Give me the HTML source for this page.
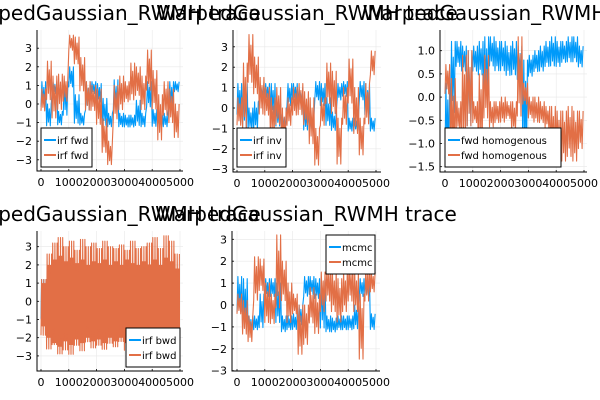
<!DOCTYPE html>
<html><head><meta charset="utf-8">
<style>
body{margin:0;background:#fff;}
svg{display:block;font-family:"DejaVu Sans","Liberation Sans",sans-serif;}
</style></head>
<body>
<svg id="chart" width="600" height="400" viewBox="0 0 600 400" xmlns="http://www.w3.org/2000/svg"></svg>
<script>
// bins of 200 iterations (25 bins over 0..5000), min/max envelope per bin
const xTicks = [0,1000,2000,3000,4000,5000];
const xTickLabels = ["0","1000","2000","3000","4000","5000"];
const yTicksA = [-3,-2,-1,0,1,2,3];
const yTickLabelsA = ["−3","−2","−1","0","1","2","3"];
const yTicksC = [-1.5,-1.0,-0.5,0.0,0.5,1.0];
const yTickLabelsC = ["−1.5","−1.0","−0.5","0.0","0.5","1.0"];

const p1BlueLo = [-0.3,-1.3,0.5,-1.2,-0.8,0.8,-1.2,-1.2,-0.5,0.5,0,-1.3,-1.3,-0.5,-1.3,-1.3,-1.3,-1.3,-1.3,-0.3,-1.3,-1.3,-1.3,-0.3,0.6];
const p1BlueHi = [1.2,0,1.2,-0.4,1.2,2.0,0.5,-0.5,1.2,1.2,1.1,0.3,-0.5,1.3,-0.5,-0.6,-0.6,0.2,-0.5,1.2,-0.3,-0.6,-0.5,1.2,1.2];
const p1OrangeLo = [-0.5,0,-1,-0.5,0,2.8,2,0.5,-0.5,-0.5,-1.3,-2.8,-3.4,-1,-0.5,0,0,0.3,-0.5,0.5,-0.5,-2.2,-0.8,-1.2,-2];
const p1OrangeHi = [0.8,2.3,1.5,1.6,1.5,3.7,3.6,2.5,1.2,1,0.8,-0.8,-2,1,1.5,1.2,2.2,2,1.5,2.9,1.8,0.5,1.2,0.8,0];

const p2BlueLo = [-0.5,-1.2,-1.2,-1.2,0.3,0.3,-0.5,-1,-1.2,0,0.3,0,-1.2,-1.2,0.3,0,-1,-1.2,0.3,0.5,-1.2,-1.2,0.3,-0.5,-1.2];
const p2BlueHi = [1.2,1.2,0,0.3,1.2,1.2,1.2,0.2,-0.3,1.2,1.2,1,0,-0.4,1.3,1.2,0.5,-0.2,1.2,1.3,-0.5,-0.5,1.3,1.2,-0.5];
const p2OrangeLo = [-1,-1.3,1,0.5,-0.5,-0.5,-1.5,-1,-2.2,-1,-0.5,-0.5,-1,-2,-3,-1,0,-0.5,-3,-1,0,-1.5,-2.5,-1,1.5];
const p2OrangeHi = [0.5,2.2,3.6,2.5,1.5,1,0.5,1,0,0.5,1,1.2,0.8,0.5,-1,0.5,2.2,1.8,-0.5,1,2.4,1,-0.5,1.2,2.8];

const p3BlueLo = [-1.5,-0.5,0.6,0.5,-0.8,0.5,0.4,0,0.6,0.5,0.5,0.4,0.4,0.3,-1.5,0.4,0.5,0.5,0.6,0.6,0.6,0.7,0.7,0.7,0.6];
const p3BlueHi = [0.3,1.2,1.2,1.1,1.0,1.1,1.2,1.3,1.3,1.2,1.2,1.1,1.2,1.1,0.8,0.9,1.0,1.1,1.2,1.3,1.2,1.2,1.3,1.3,1.1];
const p3OrangeLo = [0,-1.5,-0.8,-1.2,-0.8,-0.6,-1.2,-0.6,-0.7,-0.6,-0.6,-0.5,-0.8,-0.6,-0.2,-0.5,-0.6,-0.6,-0.7,-1.3,-1.3,-1.5,-1.4,-1.5,-1.2];
const p3OrangeHi = [0.7,0.4,-0.1,0.9,1.0,-0.1,0.5,0.9,-0.1,-0.1,0,-0.1,-0.1,1.3,0.3,0,0,-0.1,-0.2,-0.2,-0.3,-0.3,-0.2,-0.3,-0.3];

const p4BlueLo = [-1.2,-1.2,-1.2,-1.2,-1.2,-1.2,-1.2,-1.2,-1.2,-1.2,-1.2,-1.2,-1.2,-1.2,-1.2,-1.2,-1.2,-1.2,-1.2,-1.2,-1.2,-1.2,-1.2,-1.2,-1.2];
const p4BlueHi = [1.2,1.2,1.2,1.2,1.2,1.2,1.2,1.2,1.2,1.2,1.2,1.2,1.2,1.2,1.2,1.2,1.2,1.2,1.2,1.2,1.2,1.2,1.2,1.2,1.2];
const p4OrangeLo = [-2.2,-3.2,-3.0,-3.6,-3.3,-3.6,-3.0,-3.4,-2.8,-3.2,-3.0,-3.3,-2.9,-3.1,-2.8,-3.3,-3.0,-2.9,-3.2,-2.8,-3.1,-3.0,-3.4,-3.2,-2.6];
const p4OrangeHi = [1.2,2.6,3.2,3.5,3.0,3.3,2.8,3.4,3.0,3.2,2.9,3.3,3.0,2.9,3.1,2.8,3.3,2.9,3.0,3.2,3.5,2.9,3.6,3.3,2.6];
const p4CoreLo = [-1.0,-2.0,-2.3,-2.5,-2.2,-2.4,-2.1,-2.3,-2.0,-2.2,-2.1,-2.3,-2.0,-2.2,-2.0,-2.3,-2.1,-2.0,-2.2,-2.0,-2.2,-2.0,-2.3,-2.2,-1.8];
const p4CoreHi = [1.0,2.0,2.3,2.5,2.2,2.4,2.1,2.3,2.0,2.2,2.1,2.3,2.0,2.2,2.0,2.3,2.1,2.0,2.2,2.0,2.3,2.0,2.4,2.2,1.8];

const p5BlueLo = [-0.5,-1.2,-1.3,-1.2,-1.2,0.3,0.3,-1,-1.3,-1.2,-1.2,-1,0.3,0.4,0.2,-1.3,-1.3,-1.3,-1.2,-1.2,-1.2,-1.2,0.3,0.3,-1.2];
const p5BlueHi = [1.3,1.2,-0.5,-0.5,0.5,1.2,1.2,1,-0.5,-0.5,-0.4,0,1.3,1.3,1.2,1.2,-0.5,-0.6,-0.5,-0.5,-0.5,0,1.2,1.2,-0.4];
const p5OrangeLo = [-0.5,-1.5,-1.8,0,0.5,-1,-1,-0.5,0,-1,-0.5,-2.5,-2,-1,-1.5,-0.5,0,-0.5,-1,-0.5,0,-0.5,-2.8,0,0.5];
const p5OrangeHi = [0.5,0.2,-0.5,2.2,2.1,1,0.5,3.2,2.0,1,0.5,0,0,0.8,0.5,1.5,1.8,1.5,1.2,1.5,1.8,1.5,0.5,1.8,1.5];

const NS="http://www.w3.org/2000/svg";
const svg=document.getElementById('chart');
function mk(tag,attrs,parent){const e=document.createElementNS(NS,tag);for(const k in attrs)e.setAttribute(k,attrs[k]);(parent||svg).appendChild(e);return e;}

const BLUE="#009AFA", ORANGE="#E26F46";
const panels=[
 {name:'panel-irf-fwd',L:37,R:183,T:30,B:171,x0:41,x1:180,y0:104,k:18.6,yt:yTicksA,yl:yTickLabelsA,
  s:[[p1BlueLo,p1BlueHi],[p1OrangeLo,p1OrangeHi]],leg:['irf fwd','irf fwd'],lb:[41,128,51]},
 {name:'panel-irf-inv',L:233,R:381,T:30,B:172,x0:237,x1:376,y0:108,k:20.4,yt:yTicksA,yl:yTickLabelsA,
  s:[[p2BlueLo,p2BlueHi],[p2OrangeLo,p2OrangeHi]],leg:['irf inv','irf inv'],lb:[237,128,49]},
 {name:'panel-fwd-homogenous',L:440,R:587,T:30,B:172,x0:445,x1:584,y0:97.1,k:46.4,yt:yTicksC,yl:yTickLabelsC,
  s:[[p3BlueLo,p3BlueHi],[p3OrangeLo,p3OrangeHi]],leg:['fwd homogenous','fwd homogenous'],lb:[445,128,116]},
 {name:'panel-irf-bwd',L:37,R:183,T:231,B:371,x0:41,x1:180,y0:301.3,k:18.2,yt:yTicksA,yl:yTickLabelsA,
  s:[[p4BlueLo,p4BlueHi],[p4OrangeLo,p4OrangeHi]],core:[p4CoreLo,p4CoreHi],leg:['irf bwd','irf bwd'],lb:[126,328,54]},
 {name:'panel-mcmc',L:232,R:380,T:231,B:371,x0:237,x1:376,y0:305,k:21.9,yt:yTicksA,yl:yTickLabelsA,
  s:[[p5BlueLo,p5BlueHi],[p5OrangeLo,p5OrangeHi]],leg:['mcmc','mcmc'],lb:[326,235,49]}
];
const titleLayer=[];
panels.forEach((p,pi)=>{
  const g=mk('g',{});
  
  
  const X=it=>p.x0+it/5000*(p.x1-p.x0);
  const Y=v=>p.y0-p.k*v;
  xTicks.forEach(t=>{const l=mk('line',{x1:X(t),x2:X(t),y1:p.T,y2:p.B,stroke:'#e8e8e8','stroke-width':0.6},g);
    });
  p.yt.forEach(t=>{const l=mk('line',{x1:p.L,x2:p.R,y1:Y(t),y2:Y(t),stroke:'#e8e8e8','stroke-width':0.6},g);
    });
  const colors=[BLUE,ORANGE];
  p.s.forEach((ser,si)=>{
    if(si===1&&p.core){
      const lo=p.core[0],hi=p.core[1];let pts=[];
      hi.forEach((v,i)=>{pts.push(X(i*200)+','+Y(v));pts.push(X(i*200+200)+','+Y(v));});
      for(let i=lo.length-1;i>=0;i--){pts.push(X(i*200+200)+','+Y(lo[i]));pts.push(X(i*200)+','+Y(lo[i]));}
      const poly=mk('polygon',{points:pts.join(' '),fill:ORANGE},g);
      
      
    }
    const lo=ser[0],hi=ser[1];let pts=[];
    const steps=p.core?10:6;
    lo.forEach((v,i)=>{
      for(let j=0;j<steps;j++){
        const it=i*200+200*j/steps;
        const val=(j%2===0)?(lo[i]+(hi[i]-lo[i])*(j%4===0?0.1:0.25)):(hi[i]-(hi[i]-lo[i])*(j%4===1?0.0:0.2));
        pts.push(X(it).toFixed(1)+','+Y(val).toFixed(1));
      }
    });
    const pl=mk('polyline',{points:pts.join(' '),fill:'none',stroke:colors[si],'stroke-width':1.1,'stroke-linejoin':'round'},g);
    
    
  });
  const ax=mk('path',{d:`M${p.L},${p.T}V${p.B}H${p.R}`,stroke:'#000','stroke-width':1,fill:'none'},g);
  
  
  xTicks.forEach((t,i)=>{
    mk('line',{x1:X(t),x2:X(t),y1:p.B,y2:p.B-2,stroke:'#000','stroke-width':0.8},g);
    const tx=mk('text',{x:X(t),y:p.B+15,'font-size':11,'text-anchor':'middle',fill:'#000'},g);
    tx.textContent=xTickLabels[i];
    
    
  });
  p.yt.forEach((t,i)=>{
    mk('line',{x1:p.L,x2:p.L+2,y1:Y(t),y2:Y(t),stroke:'#000','stroke-width':0.8},g);
    const tx=mk('text',{x:p.L-5,y:Y(t)+4,'font-size':11,'text-anchor':'end',fill:'#000'},g);
    tx.textContent=p.yl[i];
    
    
  });
  const lg=mk('g',{},g);
  
  
  const [lx,ly,lw]=p.lb;
  mk('rect',{x:lx,y:ly,width:lw,height:39,fill:'#fff',stroke:'#000','stroke-width':1},lg);
  p.leg.forEach((lab,i)=>{
    const yy=ly+12+i*15;
    mk('line',{x1:lx+3,x2:lx+15,y1:yy,y2:yy,stroke:colors[i],'stroke-width':2},lg);
    const tx=mk('text',{x:lx+16,y:yy+4,'font-size':10,fill:'#000'},lg);
    tx.textContent=lab;
    
    
  });
  titleLayer.push([(p.L+p.R)/2,p.T-10]);
});
titleLayer.forEach(([cx,ty])=>{
  const t=mk('text',{x:cx,y:ty,'font-size':20,'text-anchor':'middle',fill:'#000'});
  t.textContent='WarpedGaussian_RWMH trace';
  
  
});
</script>
</body></html>
